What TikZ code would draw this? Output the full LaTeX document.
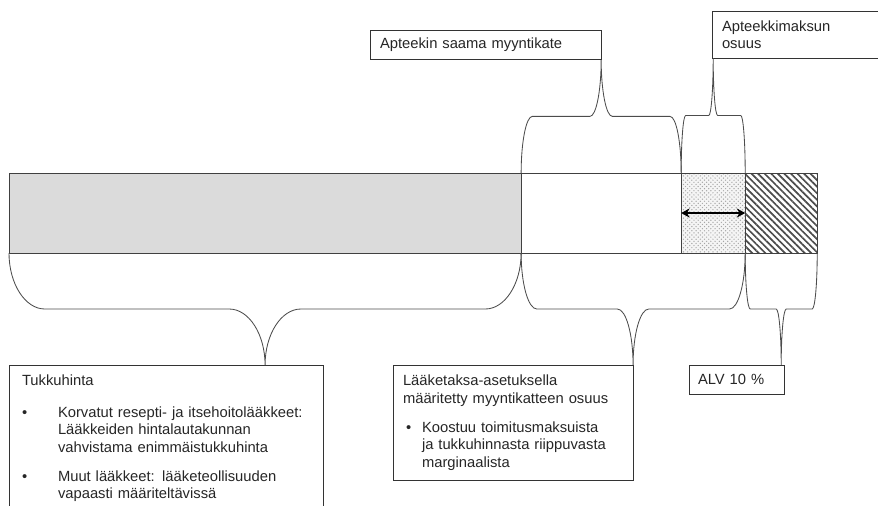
\documentclass[tikz,border=0pt]{standalone}
\usepackage{fontspec}
\setmainfont{Liberation Sans}
\usepackage{tikz}
\usetikzlibrary{arrows.meta, calc, patterns, patterns.meta}
\usetikzlibrary{positioning}
\tikzstyle{barpart}    = [draw=black!75, line width=0.6pt, minimum height=2cm, inner sep=0pt, outer sep=0pt]
\tikzstyle{textbox}    = [draw=black!80, line width=0.6pt, anchor=north west, align=left, inner xsep=0.25cm, inner ysep=0.2cm, outer sep=0pt, text=black!85, font=\fontsize{10.5}{12.4}\selectfont]
\tikzstyle{bracecurve} = [draw=black!70, line width=0.6pt]
\tikzstyle{twoway}     = [line width=1.4pt, {Stealth[length=6pt,width=6.5pt]}-{Stealth[length=6pt,width=6.5pt]}]

% brace from #1 to #2 with its tip at #3
\newcommand{\pptbrace}[3]{%
  \draw[bracecurve] let \p1=(#1), \p2=(#2), \p3=(#3),
      \n1={0.07*((\x2)-(\x1))}, \n2={0.5*((\y1)+(\y3))} in
    (\p1) .. controls (\x1,{(\y1)+0.55*((\n2)-(\y1))}) and ({(\x1)+0.45*(\n1)},{0pt+(\n2)}) .. ({(\x1)+(\n1)},{0pt+(\n2)})
    -- ({(\x3)-(\n1)},{0pt+(\n2)}) .. controls ({(\x3)-0.45*(\n1)},{0pt+(\n2)}) and (\x3,{(\y3)-0.55*((\y3)-(\n2))}) .. (\p3)
    .. controls (\x3,{(\y3)-0.55*((\y3)-(\n2))}) and ({(\x3)+0.45*(\n1)},{0pt+(\n2)}) .. ({(\x3)+(\n1)},{0pt+(\n2)})
    -- ({(\x2)-(\n1)},{0pt+(\n2)}) .. controls ({(\x2)-0.45*(\n1)},{0pt+(\n2)}) and (\x2,{(\y2)+0.55*((\n2)-(\y2))}) .. (\p2);}
% bullet paragraph: gap, indent, bullet offset, text
\newcommand{\bitem}[4]{\par\vspace{#1}\hangindent=#2\hangafter=0\noindent\llap{\makebox[#2][l]{\hspace{#3}\textbullet}}#4\par}

\begin{document}
\begin{tikzpicture}[x=0.025cm, y=-0.025cm]
  \clip (0,0) rectangle (878,505);

  % Price bar
  \node[barpart, anchor=north west, fill=gray!28, minimum width=12.8cm] (tukku) at (9,173) {};
  \node[barpart, right=0pt of tukku, fill=white, minimum width=4cm] (kate) {};
  \node[barpart, right=0pt of kate, minimum width=1.6cm,
        preaction={fill=gray!8}, pattern=crosshatch dots, pattern color=gray!70] (maksu) {};
  \node[barpart, right=0pt of maksu, minimum width=1.8cm,
        pattern={Lines[angle=-45, distance=3.3pt, line width=1.2pt]}, pattern color=black!70] (alv) {};
  \draw[barpart] (maksu.north west) rectangle (alv.south east);
  \draw[twoway] (maksu.west) -- (maksu.east);

  % Upper labels
  \node[textbox, text width=5.275cm, minimum height=0.7cm] (myyntikate) at (370,30) {Apteekin saama myyntikate};
  \node[textbox, text width=3.65cm, minimum height=1.175cm] (osuus) at (712,11) {Apteekkimaksun\\osuus};

  % Lower labels
  \node[textbox, inner xsep=0.325cm, inner ysep=0.25cm, text width=7.2cm] (hinta) at (9,365) {Tukkuhinta
    \bitem{0.36cm}{0.9cm}{0cm}{Korvatut resepti- ja itsehoitolääkkeet:\newline Lääkkeiden hintalautakunnan\newline vahvistama enimmäistukkuhinta}
    \bitem{0.29cm}{0.9cm}{0cm}{Muut lääkkeet: lääketeollisuuden\newline vapaasti määriteltävissä}
    \noindent\rule{0pt}{0.6cm}};
  \node[textbox, text width=5.5cm, minimum height=2.875cm] (taksa) at (393,365) {Lääketaksa-asetuksella\newline määritetty myyntikatteen osuus
    \bitem{0.29cm}{0.475cm}{0.075cm}{Koostuu toimitusmaksuista\newline ja tukkuhinnasta riippuvasta\newline marginaalista}};
  \node[textbox, inner xsep=0.225cm, text width=1.925cm, minimum height=0.725cm] (alvbox) at (689,365) {ALV 10 \%};

  % Braces
  \pptbrace{kate.north west}{kate.north east}{kate.north |- myyntikate.south}
  \pptbrace{maksu.north west}{maksu.north east}{maksu.north |- osuus.south}
  \pptbrace{tukku.south west}{tukku.south east}{tukku.south |- hinta.north}
  \pptbrace{kate.south west}{maksu.south east}{taksa.north east}
  \pptbrace{alv.south west}{alv.south east}{alv.south |- alvbox.north}
\end{tikzpicture}
\end{document}
